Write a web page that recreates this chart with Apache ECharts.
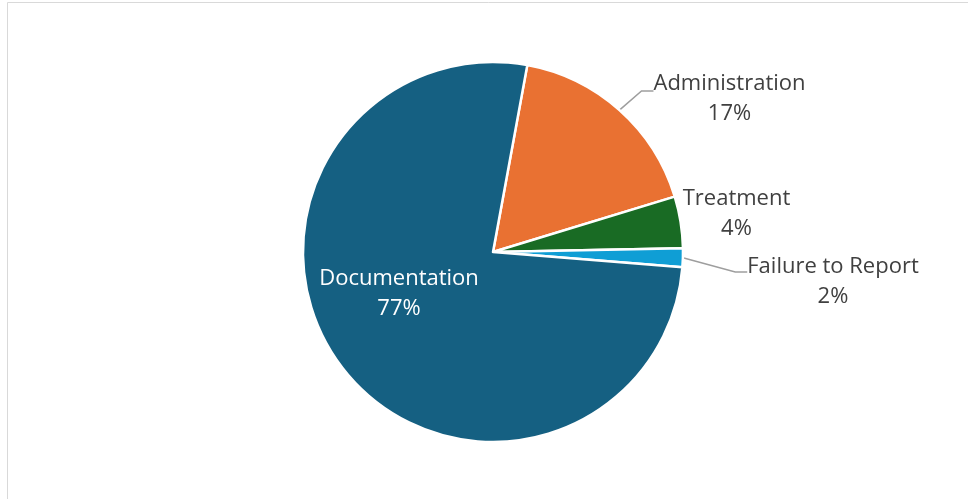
<!DOCTYPE html>
<html>
<head>
<meta charset="utf-8">
<script src="https://cdn.jsdelivr.net/npm/echarts@6/dist/echarts.min.js"></script>
<style>
  html, body { margin: 0; padding: 0; background: #fff; }
  #chart { width: 968px; height: 499px; }
</style>
</head>
<body>
<div id="chart"></div>
<script>
// ---- data ----
const categories = ['Administration', 'Treatment', 'Failure to Report', 'Documentation'];
const values = [17.4, 4.4, 1.6, 76.6];
const colors = ['#E97132', '#196B24', '#0F9ED5', '#156082'];

// ---- label placement (box centres) and top spacer heights ----
const labelPos = [
  { x: 729.5, y: 91, gap: 16 },
  { x: 736.5, y: 214, gap: 0 },
  { x: 833, y: 272, gap: 19 },
  { x: 399, y: 293.5, gap: 0 }
];

const total = values.reduce((a, b) => a + b, 0);
const fontFamily = '"Open Sans", "Noto Sans", sans-serif';

const pieData = categories.map((name, i) => {
  const item = {
    name: name,
    value: values[i],
    itemStyle: { color: colors[i] }
  };
  if (name === 'Treatment') {
    item.labelLine = { show: false };
  } else if (name === 'Documentation') {
    item.label = { position: 'inside', color: '#ffffff' };
    item.labelLine = { show: false };
  }
  return item;
});

const chart = echarts.init(document.getElementById('chart'), null, { renderer: 'canvas' });
chart.setOption({
  animation: false,
  backgroundColor: '#ffffff',
  graphic: [{
    type: 'rect',
    shape: { x: 7.5, y: 2.5, width: 1100, height: 700 },
    style: { fill: 'none', stroke: '#d9d9d9', lineWidth: 1 },
    silent: true,
    z: -1
  }],
  series: [{
    type: 'pie',
    center: [493, 252],
    radius: 190,
    startAngle: 79.6,
    clockwise: true,
    avoidLabelOverlap: false,
    itemStyle: { borderColor: '#ffffff', borderWidth: 2.5 },
    label: {
      show: true,
      position: 'outside',
      fontFamily: fontFamily,
      fontSize: 22,
      lineHeight: 30,
      color: '#404040',
      formatter: (p) => {
        const gap = labelPos[p.dataIndex].gap;
        const pct = Math.round(p.value / total * 100) + '%';
        const head = gap > 0 ? '{g' + gap + '| }\n' : '';
        return head + '{t|' + p.name + '}\n{t|' + pct + '}';
      },
      rich: {
        t: { fontFamily: fontFamily, fontSize: 22, lineHeight: 30 },
        g16: { fontSize: 2, lineHeight: 16, height: 16 },
        g19: { fontSize: 2, lineHeight: 19, height: 19 }
      }
    },
    labelLine: {
      show: true,
      length: 20,
      length2: 12,
      lineStyle: { color: '#9e9e9e', width: 1.5 }
    },
    labelLayout: (params) => {
      const pos = labelPos[params.dataIndex];
      return { x: pos.x, y: pos.y, align: 'center', verticalAlign: 'middle' };
    },
    emphasis: { disabled: true },
    data: pieData
  }]
});
</script>
</body>
</html>
